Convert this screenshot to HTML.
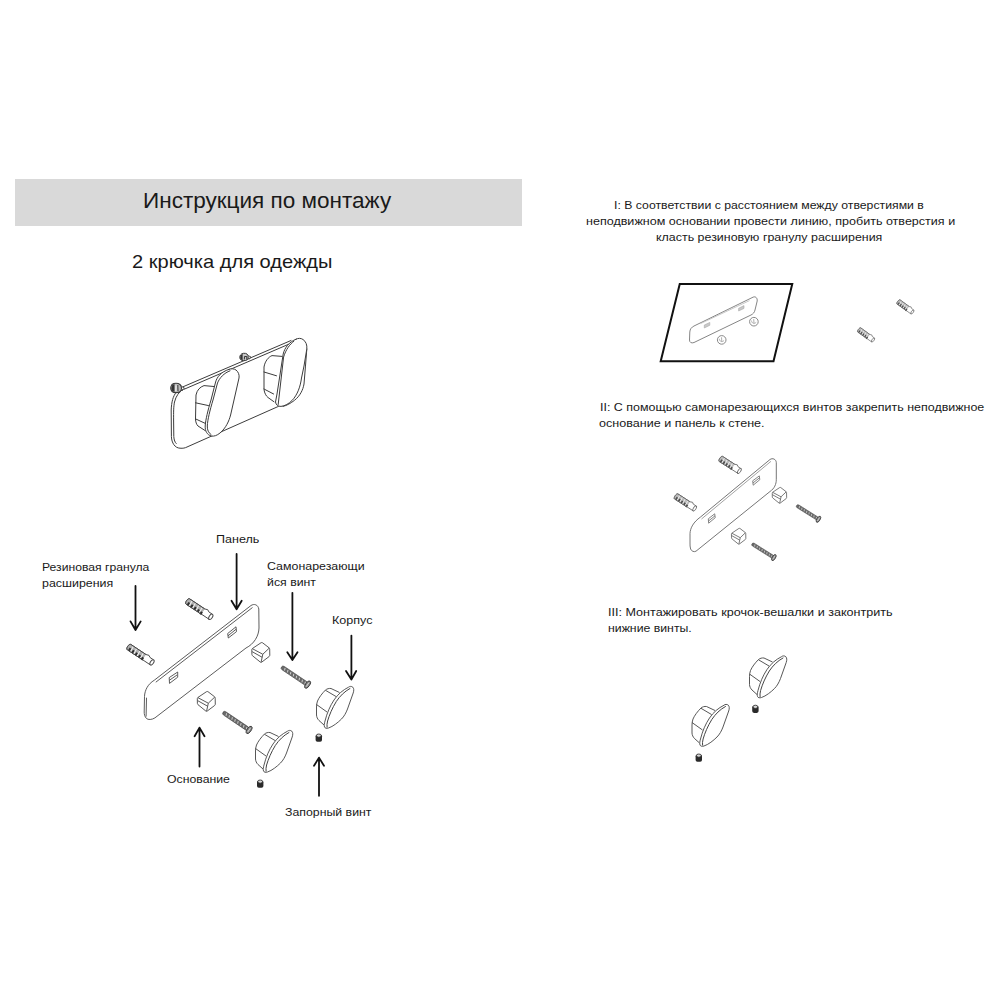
<!DOCTYPE html>
<html><head><meta charset="utf-8"><style>
html,body{margin:0;padding:0;background:#fff;width:1000px;height:1000px;overflow:hidden}
body{position:relative;font-family:"Liberation Sans",sans-serif;color:#1a1a1a}
.t{position:absolute;white-space:nowrap;line-height:1;transform-origin:0 0}
.bar{position:absolute;left:15px;top:179px;width:507px;height:47px;background:#d9d9d9}
svg{position:absolute;left:0;top:0}
</style></head><body>
<div class="bar"></div>
<div class="t" style="left:143.44px;top:189.72px;font-size:21.60px;transform:scaleX(1.0431);-webkit-text-stroke:0.0px #1a1a1a">Инструкция по монтажу</div>
<div class="t" style="left:132.43px;top:252.80px;font-size:18.60px;transform:scaleX(1.0794);-webkit-text-stroke:0.0px #1a1a1a">2 крючка для одежды</div>
<div class="t" style="left:614.42px;top:198.82px;font-size:11.60px;transform:scaleX(1.0571);-webkit-text-stroke:0.0px #1a1a1a">I: В соответствии с расстоянием между отверстиями в</div>
<div class="t" style="left:585.97px;top:214.82px;font-size:11.60px;transform:scaleX(1.0818);-webkit-text-stroke:0.0px #1a1a1a">неподвижном основании провести линию, пробить отверстия и</div>
<div class="t" style="left:655.95px;top:231.32px;font-size:11.60px;transform:scaleX(1.0724);-webkit-text-stroke:0.0px #1a1a1a">класть резиновую гранулу расширения</div>
<div class="t" style="left:599.94px;top:400.82px;font-size:11.60px;transform:scaleX(1.0747);-webkit-text-stroke:0.0px #1a1a1a">II: С помощью самонарезающихся винтов закрепить неподвижное</div>
<div class="t" style="left:599.46px;top:416.82px;font-size:11.60px;transform:scaleX(1.0834);-webkit-text-stroke:0.0px #1a1a1a">основание и панель к стене.</div>
<div class="t" style="left:607.90px;top:605.82px;font-size:11.60px;transform:scaleX(1.0851);-webkit-text-stroke:0.0px #1a1a1a">III: Монтажировать крочок-вешалки и законтрить</div>
<div class="t" style="left:607.97px;top:621.82px;font-size:11.60px;transform:scaleX(1.0591);-webkit-text-stroke:0.0px #1a1a1a">нижние винты.</div>
<div class="t" style="left:42.45px;top:560.82px;font-size:11.60px;transform:scaleX(1.0496);-webkit-text-stroke:0.0px #1a1a1a">Резиновая гранула</div>
<div class="t" style="left:42.42px;top:576.82px;font-size:11.60px;transform:scaleX(1.0708);-webkit-text-stroke:0.0px #1a1a1a">расширения</div>
<div class="t" style="left:215.96px;top:533.32px;font-size:11.60px;transform:scaleX(1.0824);-webkit-text-stroke:0.0px #1a1a1a">Панель</div>
<div class="t" style="left:267.42px;top:559.82px;font-size:11.60px;transform:scaleX(1.0689);-webkit-text-stroke:0.0px #1a1a1a">Самонарезающи</div>
<div class="t" style="left:267.43px;top:576.32px;font-size:11.60px;transform:scaleX(1.0624);-webkit-text-stroke:0.0px #1a1a1a">йся винт</div>
<div class="t" style="left:331.64px;top:613.82px;font-size:11.60px;transform:scaleX(1.0837);-webkit-text-stroke:0.0px #1a1a1a">Корпус</div>
<div class="t" style="left:167.47px;top:773.07px;font-size:11.60px;transform:scaleX(1.0578);-webkit-text-stroke:0.0px #1a1a1a">Основание</div>
<div class="t" style="left:284.97px;top:806.32px;font-size:11.60px;transform:scaleX(1.0619);-webkit-text-stroke:0.0px #1a1a1a">Запорный винт</div>
<svg width="1000" height="1000" viewBox="0 0 1000 1000">
<defs>
<g id="hook" fill="none" stroke="#444" stroke-width="0.9" stroke-linejoin="round">
<path d="M27.5,10.5 L19,6.5 C17,6.2 15,6.8 13.5,8 C10,11.5 7,15.5 5.5,19 C4.8,21 4.5,23 4.5,25 L4.5,33 C4.6,35 5.5,37 7,38.5 L12,43"/>
<path d="M13.5,8.3 L24,14.5 M4.5,22.5 L15,30"/>
<path d="M36.5,5.2 C37.5,4.3 39.5,4 40.8,5.2 C42,6.5 42,8.5 41.2,11 L35.5,27 C34,31 32,34.5 29.5,37 C26,40.5 21,44.5 16.5,46 C14.5,46.7 13,46.2 12.5,45 C12,43.5 12.3,41.5 13,39 C15,31 18,24 22,18 C26,12 31,8 36.5,5.2 Z" fill="#fff"/>
<path d="M38.3,6.3 C32.5,9.5 28,14 24.3,19.5 C20.3,26 17.3,33 15.6,39 C15,41.5 14.8,43.5 15.1,45.5" stroke-width="1"/>
</g>
<g id="cube" fill="none" stroke="#505050" stroke-width="0.95" stroke-linejoin="round">
<path d="M9.5,0.5 C10,0.2 10.5,0.2 11,0.5 L17.5,5.5 C18,6 18.2,6.5 18.2,7 L18.3,13 C18.3,13.6 18,14 17.6,14.3 L10.2,19.9 C9.8,20.2 9.3,20.2 8.9,19.9 L1,13.5 C0.6,13.1 0.4,12.7 0.4,12.2 L0.3,7.5 C0.3,7 0.6,6.5 1,6.2 Z" fill="#fff"/>
<path d="M0.8,6.4 L11.3,12 L17.8,5.8 M11.3,12 L9.6,19.9 M0.6,9.4 L10.6,15"/>
</g>
<g id="dowel">
<path d="M0,-3.2 L18,-3.2 L21,-4.2 L23,-3 L27.4,-3 L27.4,3 L18,3 L0,3.2 C-2.3,3.2 -2.3,-3.2 0,-3.2 Z" fill="#fff" stroke="#4a4a4a" stroke-width="0.9" stroke-linejoin="round"/>
<path d="M0,-3.2 L18,-3.2 L18,3.1 L0,3.2 C-2.3,3.2 -2.3,-3.2 0,-3.2 Z" fill="#b0b0b0"/>
<path d="M3,-3 L3.5,3 M7,-3 L7.5,3 M11,-3 L11.5,3 M15,-3 L15.5,3" stroke="#f4f4f4" stroke-width="1"/>
<g fill="#2e2e2e"><rect x="0.6" y="0" width="2" height="3.2"/><rect x="4.6" y="0" width="2" height="3.2"/><rect x="8.6" y="0.2" width="2" height="3"/><rect x="12.6" y="0.4" width="2" height="2.8"/><rect x="16.2" y="0.8" width="2.2" height="3"/></g>
<path d="M0,-3.2 L18,-3.2 M0,3.2 L18,3.1 M0,-3.2 C-2.3,-3.2 -2.3,3.2 0,3.2" fill="none" stroke="#444" stroke-width="0.9"/>
<ellipse cx="27.4" cy="0" rx="1.6" ry="3" fill="#fff" stroke="#4a4a4a" stroke-width="1"/>
</g>
<g id="screw">
<rect x="0" y="-2" width="31" height="4" rx="2" fill="#6a6a6a" stroke="#444" stroke-width="0.6"/>
<path d="M3.5,-1.2 L4.5,1.2 M7,-1.2 L8,1.2 M10.5,-1.2 L11.5,1.2 M14,-1.2 L15,1.2 M17.5,-1.2 L18.5,1.2 M21,-1.2 L22,1.2 M24.5,-1.2 L25.5,1.2 M28,-1.2 L29,1.2" stroke="#d0d0d0" stroke-width="0.9"/>
<ellipse cx="31.5" cy="0" rx="2" ry="4.2" fill="#888" stroke="#3a3a3a" stroke-width="0.9"/>
<path d="M31.5,-2.5 L31.5,2.5" stroke="#e0e0e0" stroke-width="0.8"/>
</g>
<g id="setscrew">
<rect x="0" y="1.5" width="6.4" height="7.2" rx="1.8" fill="#2a2a2a"/>
<ellipse cx="3.2" cy="2.6" rx="2.4" ry="1.6" fill="#d8d8d8" stroke="#2a2a2a" stroke-width="0.8"/>
</g>
</defs>

<g fill="none" stroke="#3c3c3c" stroke-width="1" stroke-linecap="round" stroke-linejoin="round">
<!-- TOP HOOK -->
<path d="M183,386.8 L291,340.5"/>
<path d="M184,389.3 L292,342.8"/>
<path d="M176.2,392.4 C173,396 171.5,402 171.2,410 L171.4,436.6 C171.6,443 175,448 180,448.2 C183,448.5 185,448 187,447 L278.4,406.4"/>
<path d="M183,389.2 C179,392 176,396 174.5,402 C173.5,407 173.6,412 173.6,420 L173.8,436.6 C174,440 175,442.5 176.2,443.5"/>
<path d="M228.8,369.4 C231,368.5 234,368.5 236,370 C238.5,372 239.5,375 239,378 L230.6,415 C229,421 226,428 220,433 C217,435.5 214,436.5 211.5,436 C207,435 205,431 205.2,426 C205.5,420 208,410 211,400 L215.6,382 C217,377 221,372 228.8,369.4 Z" fill="#fff"/>
<path d="M230,370.8 C224,373 219.5,378 217.5,383 L213,400 C210,410 207.5,420 207.3,426 C207.2,430 208.5,433 211,434.5"/>
<path d="M213.8,386.5 L204,385.6 C200,387 197,390 196,395 L195.5,419 C195.6,422 196.5,424.5 198,426 L205,430.5"/>
<path d="M195.5,402.8 L208.5,405.6 M195.8,419 L205.5,423.5"/>
<path d="M306.8,349 C306,360 305,372 304,384 C303,390 300,396 294.4,400.4 C291,403 287,405.5 283,406.4"/>
<path d="M296,339.2 C298,338 301,338 303,339.5 C306,341.5 307.2,345 306.8,349 L304,366 L301.5,378 C300.5,386 297.5,395 292,400.5 C289,403.5 285,406 281,406.4 C278,406.5 276,405 275.5,402 L277,394 L283.2,354 C284.5,348 289,342 296,339.2 Z" fill="#fff"/>
<path d="M293.8,341.3 C289.5,344.5 286,349.5 283.6,357 L278.2,404.5"/>
<path d="M282,356.4 L272,355.6 C268.5,357 265,361 264,367 L264,389.6 C264.5,393 266,396 268,397.5 L274,401.8"/>
<path d="M264,372 L276.5,375.8 M264,389 L273.6,394"/>
</g>
<g>
<path d="M172,384.5 C174,382.8 178,382.8 180,384.5 C182,386.5 182,390 180,391.8 C178,393 174,393 172,391.5 C170.5,389.5 170.5,386.5 172,384.5 Z" fill="#bdbdbd" stroke="#3a3a3a" stroke-width="1.1"/>
<path d="M172.3,385 C171,387 171,390 172.5,391.3 L174.5,391.8 L174.5,384 Z" fill="#333"/>
<path d="M176,385.5 L175.8,391.2" stroke="#f0f0f0" stroke-width="1.2"/>
<path d="M177.8,385 L178,391" stroke="#444" stroke-width="1.1"/>
<path d="M181,386 L184.5,388 L182,391" fill="none" stroke="#555" stroke-width="1"/>
<path d="M240.5,355 C241.5,353 245.5,352.8 247,354 C248.6,355.5 248.6,358.5 247.2,359.8 C245.5,361 241.8,361 240.5,359.5 C239.5,358 239.5,356.5 240.5,355 Z" fill="#c8c8c8" stroke="#3a3a3a" stroke-width="1"/>
<path d="M240.8,355.3 C240,357 240,358.5 241,359.6 L242.6,360.2 L242.6,353.8 Z" fill="#333"/>
<path d="M244.3,359.5 L244.5,356.5 L246.8,356.5 L246.8,359.5" fill="none" stroke="#333" stroke-width="1"/>
<path d="M248,355.5 L251,357 L249,359.5" fill="none" stroke="#555" stroke-width="1"/>
</g>

<!-- LEFT EXPLODED -->
<g fill="none" stroke="#4a4a4a" stroke-width="0.9" stroke-linejoin="round">
<path d="M154.3,680.2 L251,605.5 C254,603.5 258,604.5 258.8,609 L259,628 C258.8,636 254,644 246,648 L154.9,717.9 C152,719.8 148,720 146.5,718.5 C144.5,716.5 144.2,714 144.2,712 L144.5,696.4 C144.8,690 148,684 154.3,680.2 Z"/>
<path d="M155.8,682.2 L252.5,607.5 M146.5,697.7 L146.1,716.6"/>
<path d="M169.2,677.6 L177.7,672 L177.7,677.2 L169.5,683.4 Z M169.5,680.2 L177,675"/>
<path d="M227.7,633.5 L236,626.8 L236.5,631.6 L228.3,638 Z M228,635.8 L236,629.3"/>
</g>
<g stroke="#111" stroke-width="1.8" fill="none" stroke-linecap="round" stroke-linejoin="round">
<path d="M135.5,586 L135.5,630 M130.5,621.4 L135.5,630 L140.7,621.4"/>
<path d="M236.6,554 L236.6,609.3 M231.5,600.8 L236.6,609.3 L241.7,600.8"/>
<path d="M292.4,592.8 L292.4,660 M287.3,652.2 L292.4,660 L297.5,652.2"/>
<path d="M351.4,635.6 L351.4,679.6 M346,671 L351.4,679.6 L356.2,671"/>
<path d="M199.5,766.5 L199.5,727.6 M194.6,736.2 L199.5,727.6 L204.5,736.2"/>
<path d="M319,795.8 L319,757.6 M314,765.8 L319,757.6 L324,765.8"/>
</g>
<use href="#dowel" transform="translate(188,601.6) rotate(33.7)"/>
<use href="#dowel" transform="translate(129.2,647.2) rotate(33.7)"/>
<use href="#cube" transform="translate(251.5,642.25)"/>
<use href="#cube" transform="translate(197,691.2)"/>
<use href="#screw" transform="translate(281.5,667) rotate(34)"/>
<use href="#screw" transform="translate(223,712.3) rotate(34)"/>
<use href="#hook" transform="translate(312,682)"/>
<use href="#hook" transform="translate(251,726)"/>
<use href="#setscrew" transform="translate(315.6,733)"/>
<use href="#setscrew" transform="translate(257,779)"/>

<!-- STEP I -->
<path d="M679.75,284 L792.25,284 L773.5,361.25 L660.7,361.25 Z" fill="none" stroke="#111" stroke-width="2"/>
<g fill="none" stroke="#777" stroke-width="0.9" stroke-linejoin="round">
<path d="M694,326 L753,297.2 C755.5,296 757.5,298 757.2,301 L755,310 C754.5,312.5 753,314 751,315 L694,342.5 C691.5,343.5 689.5,342.5 689.5,340 L689.8,332 C690,329 691.5,327.3 694,326 Z"/>
<path d="M704.3,325 L709.8,322.4 L709.8,325.3 L704.3,328 Z M738.6,308.3 L744,305.6 L744,308.4 L738.6,311 Z" fill="#c8c8c8" stroke="#aaa" stroke-width="0.6"/>
<path d="M700.5,323.6 L749.5,300.6" stroke="#bbb" stroke-width="0.8"/>
<circle cx="721.7" cy="339.9" r="4.3" stroke="#888" stroke-width="1"/>
<circle cx="753.9" cy="321.7" r="4.3" stroke="#888" stroke-width="1"/>
<path d="M719.3,338.8 C719.5,341.5 722,342.5 724,340.5 M721.5,337.3 L721.8,341.5 M751.5,320.6 C751.7,323.3 754.2,324.3 756.2,322.3 M753.7,319.1 L754,323.3" stroke="#999" stroke-width="0.8"/>
</g>
<use href="#dowel" transform="translate(898.6,302) rotate(36) scale(0.62,0.8)" opacity="0.85"/>
<use href="#dowel" transform="translate(859.3,330) rotate(36) scale(0.62,0.8)" opacity="0.85"/>

<!-- STEP II -->
<g fill="none" stroke="#666" stroke-width="0.9" stroke-linejoin="round">
<path d="M700.4,517.1 L770,459.5 C772.5,457.8 776,459 776.3,462.5 L776.3,479.7 C776.3,484 774.5,488.5 770,491.5 L696,551.2 C694,552.3 691.5,551.2 690.6,549 C690,547 690,545 690,543 L690,533.6 C690.2,528 693.5,522 700.4,517.1 Z"/>
<path d="M701.5,519 L771,461.3" stroke="#999"/>
<path d="M752.7,480.8 L759.3,475.9 L759.8,479.7 L753.2,485.2 Z M752.9,483 L759.5,477.8" stroke="#777"/>
<path d="M708.3,518.8 L714.7,513.8 L715.25,517.7 L708.65,523.2 Z M708.5,521 L715,515.8" stroke="#777"/>
</g>
<use href="#dowel" transform="translate(721,459) rotate(33) scale(0.8,0.95)" opacity="0.85"/>
<use href="#dowel" transform="translate(676.3,496.5) rotate(33) scale(0.8,0.95)" opacity="0.85"/>
<use href="#cube" transform="translate(772,487.2) scale(0.8)"/>
<use href="#cube" transform="translate(731.2,528.1) scale(0.8)"/>
<use href="#screw" transform="translate(796.6,505.5) rotate(32.2) scale(0.82)"/>
<use href="#screw" transform="translate(752,543.8) rotate(32.2) scale(0.82)"/>

<!-- STEP III -->
<use href="#hook" transform="translate(745,651.5)"/>
<use href="#hook" transform="translate(687.5,700)"/>
<use href="#setscrew" transform="translate(752.2,704.2)"/>
<use href="#setscrew" transform="translate(695.6,753)"/>
</svg>

</body></html>
